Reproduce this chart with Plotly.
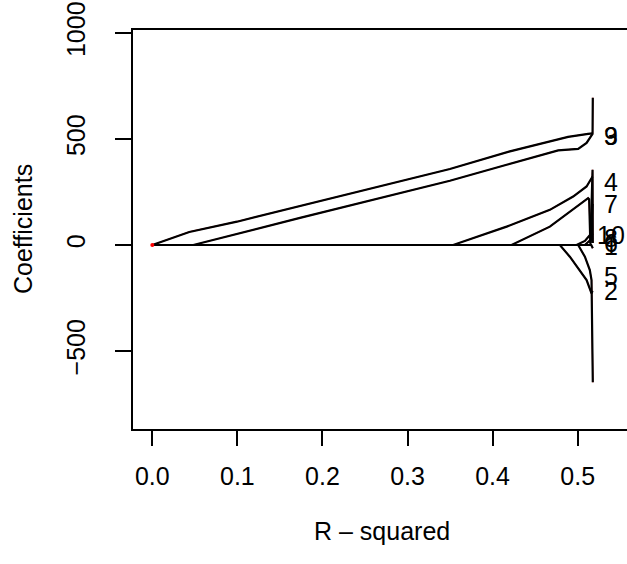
import plotly.graph_objects as go

# ---- data (R-squared vs coefficient paths) ----
rsq_3 = [0, 0.0435, 0.0995, 0.1994, 0.2911, 0.3498, 0.4203, 0.4771, 0.4888, 0.5123, 0.5175]
coef_3 = [0, 61.5, 109.8, 208.2, 299.6, 358.3, 441.5, 500.2, 509.7, 523.9, 526.3]

rsq_9 = [0, 0.0482, 0.1736, 0.2911, 0.3498, 0.4165, 0.4771, 0.5006, 0.5105, 0.5175, 0.5178]
coef_9 = [0, 0, 127.8, 243.7, 302.9, 378.6, 446.3, 452.9, 481.3, 523.9, 694.3]

rsq_4 = [0, 0.3537, 0.4165, 0.4673, 0.4947, 0.5105, 0.5175]
coef_4 = [0, 0, 86.6, 165.6, 228.6, 275.9, 323.2]

rsq_7 = [0, 0.4223, 0.4673, 0.4987, 0.5123, 0.5135, 0.5149, 0.5175]
coef_7 = [0, 0, 86.6, 181.3, 221.0, 216.3, 9.5, 194.0]

rsq_10 = [0, 0.4987, 0.5085, 0.5163, 0.5175]
coef_10 = [0, 0, 18.9, 55.4, 47.0]

rsq_2 = [0, 0.4791, 0.4908, 0.5026, 0.5105, 0.5163, 0.5175]
coef_2 = [0, 0, -55.4, -118.3, -165.6, -228.6, -216.0]

rsq_5 = [0, 0.5006, 0.5085, 0.5143, 0.5163, 0.5178]
coef_5 = [0, 0, -55.4, -118.3, -165.6, -647.0]

rsq_8 = [0, 0.5085, 0.5175]
coef_8 = [0, 0, 33.0]

rsq_6 = [0, 0.5150, 0.5175, 0.5178]
coef_6 = [0, 0, 355.0, 9.5]

rsq_1 = [0, 0.5160, 0.5178]
coef_1 = [0, 0, -15.0]

label_names = ["9", "3", "4", "7", "10", "8", "6", "1", "5", "2"]
label_values = [515.6, 515.6, 294.8, 193.4, 45.8, 33.0, 9.4, -4.7, -144.8, -215.6]
label_x = 0.539

x_ticks = [0.0, 0.1, 0.2, 0.3, 0.4, 0.5]
x_tick_text = ["0.0", "0.1", "0.2", "0.3", "0.4", "0.5"]
y_ticks = [-500, 0, 500, 1000]
y_tick_text = ["\u2212500", "0", "500", "1000"]

paths = [
    (rsq_1, coef_1), (rsq_2, coef_2), (rsq_3, coef_3), (rsq_4, coef_4),
    (rsq_5, coef_5), (rsq_6, coef_6), (rsq_7, coef_7), (rsq_8, coef_8),
    (rsq_9, coef_9), (rsq_10, coef_10),
]

FONT = "Liberation Sans, Arial, Helvetica, sans-serif"

fig = go.Figure()
for xs, ys in paths:
    fig.add_trace(go.Scatter(x=xs, y=ys, mode="lines",
                             line=dict(color="red", width=1.2),
                             showlegend=False, hoverinfo="skip"))
for xs, ys in paths:
    fig.add_trace(go.Scatter(x=xs, y=ys, mode="lines",
                             line=dict(color="black", width=2.2),
                             showlegend=False, hoverinfo="skip"))
fig.add_trace(go.Scatter(x=[0], y=[0], mode="markers",
                         marker=dict(color="red", size=4),
                         showlegend=False, hoverinfo="skip"))

for name, val in zip(label_names, label_values):
    fig.add_annotation(x=label_x, y=val, text=name, showarrow=False,
                       xanchor="center", yanchor="middle",
                       font=dict(family=FONT, size=25, color="black"))

# axis titles
fig.add_annotation(xref="paper", yref="paper", x=(381.7 - 133) / (627 - 133), y=-(531 - 429) / 399,
                   text="R \u2013 squared", showarrow=False, xanchor="center", yanchor="middle",
                   font=dict(family=FONT, size=25, color="black"))
fig.add_annotation(xref="paper", yref="paper", x=-(133 - 22.5) / (627 - 133), y=0.5,
                   text="Coefficients", showarrow=False, textangle=-90,
                   xanchor="center", yanchor="middle",
                   font=dict(family=FONT, size=25, color="black"))

fig.update_layout(
    width=627, height=564,
    margin=dict(l=133, r=0, t=30, b=135, pad=0),
    paper_bgcolor="white", plot_bgcolor="white",
    font=dict(family=FONT, size=25, color="black"),
    xaxis=dict(range=[-0.0227, 0.5580], tickvals=x_ticks, ticktext=x_tick_text,
               showgrid=False, zeroline=False, showline=True, linecolor="black",
               linewidth=1.5, mirror=True, ticks="outside", ticklen=15, tickwidth=1.5,
               tickcolor="black", ticklabelstandoff=9,
               tickfont=dict(family=FONT, size=25, color="black")),
    yaxis=dict(range=[-868, 1014], tickvals=y_ticks, ticktext=y_tick_text,
               showgrid=False, zeroline=False, showline=True, linecolor="black",
               linewidth=1.5, mirror=False, ticks="outside", ticklen=16, tickwidth=1.5,
               tickcolor="black", tickangle=-90, ticklabelstandoff=20,
               tickfont=dict(family=FONT, size=25, color="black")),
)

fig.write_html("out.html")
